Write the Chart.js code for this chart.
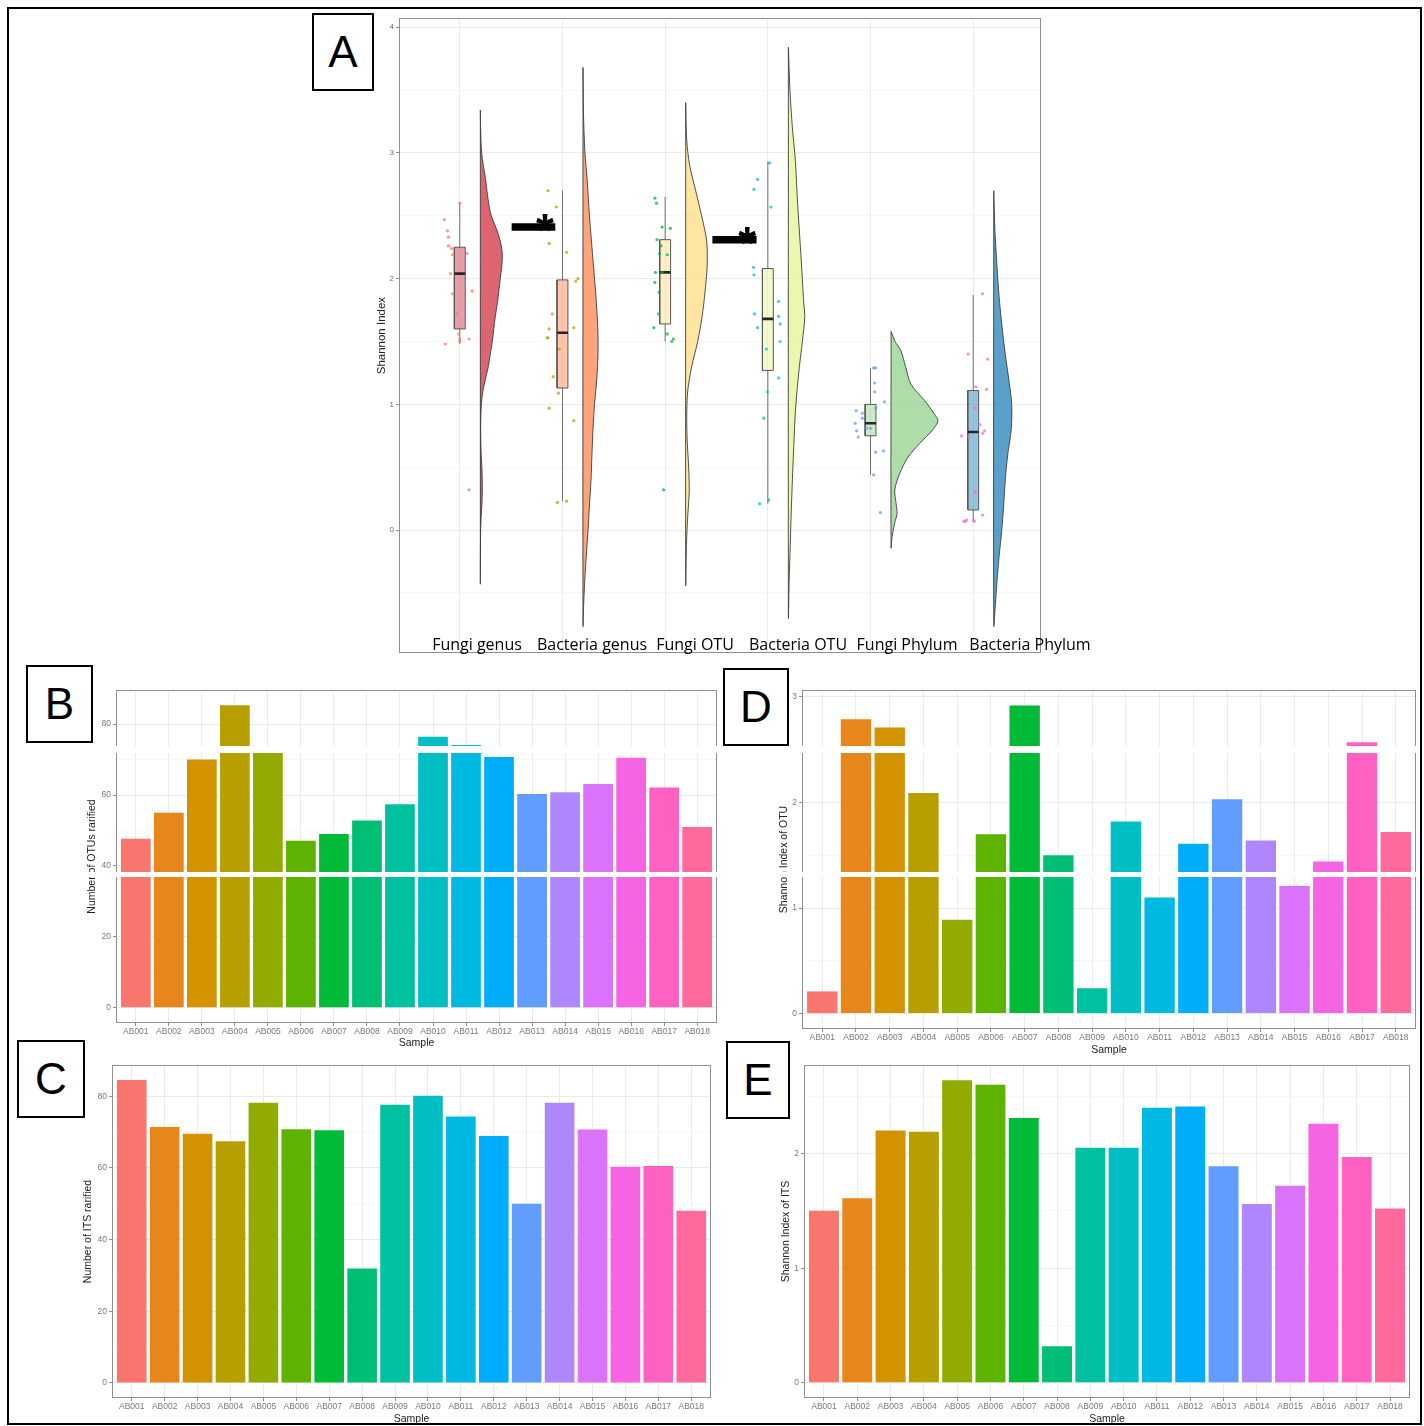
<!DOCTYPE html>
<html>
<head>
<meta charset="utf-8">
<script src="https://cdn.jsdelivr.net/npm/chart.js@4.4.1/dist/chart.umd.min.js"></script>
<style>
  html, body { margin: 0; padding: 0; background: #fff; }
  #page { position: relative; width: 1424px; height: 1426px; overflow: hidden; background: #fff; }
  #page canvas { position: absolute; }
  .outer { position: absolute; left: 7px; top: 7px; width: 1411px; height: 1414px; border: 2px solid #000; }
  .tag { position: absolute; box-sizing: border-box; border: 2.5px solid #000; background: #fff;
         font-family: 'Liberation Sans', Arial, sans-serif; font-size: 44px; color: #000;
         display: flex; align-items: center; justify-content: center; }
  .grp { position: absolute; top: 636px; transform: translateX(-50%); white-space: nowrap;
         font-family: 'Open Sans', sans-serif; font-size: 16px; line-height: 16px; color: #000; }
</style>
</head>
<body>
<div id="page">
  <div class="outer"></div>
  <canvas id="chartA" width="686" height="650" style="left:359px;top:10px"></canvas>
  <canvas id="chartB" width="642" height="371" style="left:76px;top:680px"></canvas>
  <canvas id="chartC" width="640" height="372" style="left:72px;top:1055px"></canvas>
  <canvas id="chartD" width="655" height="378" style="left:762px;top:680px"></canvas>
  <canvas id="chartE" width="647" height="372" style="left:764px;top:1055px"></canvas>

  <div class="grp" style="left:477px">Fungi genus</div>
  <div class="grp" style="left:592px">Bacteria genus</div>
  <div class="grp" style="left:695px">Fungi OTU</div>
  <div class="grp" style="left:798px">Bacteria OTU</div>
  <div class="grp" style="left:907px">Fungi Phylum</div>
  <div class="grp" style="left:1030px">Bacteria Phylum</div>

  <div class="tag" style="left:312px;top:13px;width:62px;height:78px">A</div>
  <div class="tag" style="left:26px;top:665px;width:67px;height:78px">B</div>
  <div class="tag" style="left:17px;top:1040px;width:68px;height:78px">C</div>
  <div class="tag" style="left:723px;top:668px;width:66px;height:78px">D</div>
  <div class="tag" style="left:726px;top:1041px;width:64px;height:78px">E</div>
</div>

<script>
// ---- samples (panels B-E) ----
const samples = ['AB001', 'AB002', 'AB003', 'AB004', 'AB005', 'AB006', 'AB007', 'AB008', 'AB009',
                 'AB010', 'AB011', 'AB012', 'AB013', 'AB014', 'AB015', 'AB016', 'AB017', 'AB018'];
const sampleColors = ['#F8766D', '#E7861B', '#D39200', '#B79F00', '#93AA00', '#5EB300', '#00BA38', '#00BF74', '#00C19F',
                      '#00BFC4', '#00B9E3', '#00ADFA', '#619CFF', '#AE87FF', '#DB72FB', '#F564E3', '#FF61C3', '#FF699C'];

const otuRarified = [47.7, 55.0, 70.0, 85.3, 72.5, 47.1, 49.0, 52.8, 57.4, 76.4, 74.1, 70.7, 60.3, 60.8, 63.1, 70.5, 62.1, 51.0];
const itsRarified = [84.5, 71.4, 69.5, 67.4, 78.2, 70.8, 70.5, 31.9, 77.6, 80.1, 74.3, 68.9, 50.0, 78.2, 70.7, 60.3, 60.5, 48.0];
const otuShannon = [0.21, 2.79, 2.71, 2.09, 0.89, 1.70, 2.92, 1.50, 0.24, 1.82, 1.10, 1.61, 2.03, 1.64, 1.21, 1.44, 2.57, 1.72];
const itsShannon = [1.50, 1.61, 2.20, 2.19, 2.64, 2.60, 2.31, 0.32, 2.05, 2.05, 2.40, 2.41, 1.89, 1.56, 1.72, 2.26, 1.97, 1.52];

const countTicks = [0, 10, 20, 30, 40, 50, 60, 70, 80];
const countTickLabels = ['0', '', '20', '', '40', '', '60', '', '80'];
const otuShannonTicks = [0, 0.5, 1, 1.5, 2, 2.5, 3];
const otuShannonTickLabels = ['0', '', '1', '', '2', '', '3'];
const itsShannonTicks = [0, 0.5, 1, 1.5, 2, 2.5];
const itsShannonTickLabels = ['0', '', '1', '', '2', ''];

// ---- panel A (raincloud) ----
const groups = ['Fungi genus', 'Bacteria genus', 'Fungi OTU', 'Bacteria OTU', 'Fungi Phylum', 'Bacteria Phylum'];
const groupFill = ['#D53E4F', '#FC8D59', '#FEE08B', '#E6F598', '#99D594', '#3288BD'];
const groupPointColor = ['#F8766D', '#B79F00', '#00BA38', '#00BFC4', '#619CFF', '#F564E3'];

const fungiGenusValues = [2.60, 2.47, 2.38, 2.33, 2.26, 2.24, 2.19, 2.20, 2.04, 1.88, 1.90, 1.72, 1.56, 1.52, 1.48, 1.52, 0.32, 1.50];
const fungiGenusJitter = [0.00, -0.15, -0.12, -0.11, -0.11, -0.08, -0.07, 0.07, -0.09, -0.07, 0.12, -0.03, -0.01, 0.00, -0.14, 0.09, 0.09, 0.00];
const bacteriaGenusValues = [2.70, 2.57, 2.28, 2.21, 2.00, 1.98, 1.72, 1.60, 1.61, 1.53, 1.53, 1.44, 1.22, 1.09, 0.97, 0.87, 0.22, 0.23];
const bacteriaGenusJitter = [-0.14, -0.06, -0.13, 0.04, 0.15, 0.13, -0.10, -0.13, 0.11, -0.15, -0.14, -0.03, -0.09, -0.04, -0.13, 0.11, -0.05, 0.04];
// OTU groups use the per-sample Shannon values of panels D and E
const fungiOtuJitter = [0.065, -0.11, -0.055, 0.02, -0.10, -0.085, -0.08, -0.015, -0.095, -0.03, 0.05, -0.03, -0.06, 0.02, -0.065, -0.04, -0.10, 0.08];
const bacteriaOtuJitter = [-0.08, -0.10, -0.135, -0.14, -0.04, 0.105, 0.015, 0.12, 0.01, 0.105, -0.005, -0.10, -0.135, 0.12, 0.105, -0.015, 0.03, -0.13];
const fungiPhylumValues = [1.29, 1.29, 1.17, 1.10, 1.02, 0.95, 0.93, 0.97, 0.85, 0.79, 0.81, 0.74, 0.62, 0.63, 0.44, 0.14, 0.89, 0.81];
const fungiPhylumJitter = [0.03, 0.05, 0.04, 0.04, 0.135, -0.14, -0.08, 0.05, -0.15, -0.135, -0.04, -0.12, 0.05, 0.125, 0.03, 0.095, -0.08, 0.00];
const bacteriaPhylumValues = [1.88, 1.40, 1.36, 1.14, 1.12, 0.97, 0.84, 0.79, 0.77, 0.75, 0.74, 0.30, 0.12, 0.07, 0.08, 0.08, 0.07, 0.07];
const bacteriaPhylumJitter = [0.09, -0.05, 0.14, 0.025, 0.13, 0.02, 0.065, 0.11, 0.09, -0.115, -0.04, 0.02, 0.09, -0.08, -0.065, 0.00, 0.01, -0.09];

const whiskerLow = [1.48, 0.23, 1.50, 0.21, 0.44, 0.08];
const boxQ1 = [1.60, 1.13, 1.64, 1.27, 0.75, 0.16];
const boxMedian = [2.04, 1.57, 2.05, 1.68, 0.85, 0.78];
const boxQ3 = [2.25, 1.99, 2.31, 2.08, 1.00, 1.11];
const whiskerHigh = [2.60, 2.70, 2.65, 2.93, 1.29, 1.87];

// half-violin outlines: [shannon, half width in category units], top to bottom
const fungiGenusDensity = [[3.34, 0], [3.2, 0.003], [3.0, 0.013], [2.8, 0.049], [2.6, 0.081], [2.5, 0.107], [2.4, 0.155],
  [2.3, 0.194], [2.2, 0.214], [2.1, 0.209], [2.0, 0.194], [1.9, 0.180], [1.8, 0.165], [1.7, 0.146], [1.6, 0.131],
  [1.5, 0.117], [1.4, 0.097], [1.3, 0.078], [1.2, 0.049], [1.1, 0.024], [1.0, 0.010], [0.9, 0.005], [0.8, 0.003],
  [0.6, 0.008], [0.5, 0.015], [0.4, 0.019], [0.3, 0.019], [0.2, 0.015], [0.1, 0.008], [0.0, 0.003], [-0.2, 0.001], [-0.42, 0]];
const bacteriaGenusDensity = [[3.68, 0], [3.3, 0.005], [3.0, 0.019], [2.8, 0.039], [2.5, 0.063], [2.2, 0.092], [2.0, 0.112],
  [1.8, 0.131], [1.6, 0.144], [1.4, 0.146], [1.2, 0.134], [1.0, 0.112], [0.8, 0.097], [0.6, 0.087], [0.4, 0.078],
  [0.2, 0.063], [0.0, 0.049], [-0.2, 0.032], [-0.4, 0.017], [-0.6, 0.006], [-0.76, 0]];
const fungiOtuDensity = [[3.40, 0], [3.1, 0.010], [2.9, 0.039], [2.7, 0.097], [2.5, 0.155], [2.3, 0.204], [2.1, 0.209],
  [1.9, 0.189], [1.7, 0.160], [1.5, 0.117], [1.3, 0.058], [1.1, 0.019], [0.9, 0.010], [0.7, 0.015], [0.5, 0.029],
  [0.3, 0.034], [0.1, 0.019], [-0.1, 0.008], [-0.43, 0]];
const bacteriaOtuDensity = [[3.84, 0], [3.5, 0.015], [3.2, 0.039], [2.94, 0.068], [2.7, 0.083], [2.5, 0.097], [2.2, 0.121],
  [2.0, 0.136], [1.8, 0.150], [1.7, 0.160], [1.5, 0.136], [1.3, 0.107], [1.1, 0.083], [0.9, 0.065], [0.6, 0.049],
  [0.4, 0.039], [0.1, 0.026], [-0.15, 0.017], [-0.42, 0.007], [-0.69, 0]];
const fungiPhylumDensity = [[1.58, 0], [1.50, 0.039], [1.43, 0.094], [1.30, 0.141], [1.16, 0.194], [1.03, 0.327],
  [0.92, 0.424], [0.87, 0.456], [0.80, 0.408], [0.69, 0.279], [0.58, 0.165], [0.45, 0.084], [0.32, 0.036],
  [0.21, 0.049], [0.13, 0.058], [0.06, 0.036], [-0.05, 0.010], [-0.14, 0]];
const bacteriaPhylumDensity = [[2.70, 0], [2.4, 0.010], [2.2, 0.024], [2.0, 0.039], [1.8, 0.058], [1.6, 0.083], [1.4, 0.112],
  [1.2, 0.146], [1.0, 0.175], [0.8, 0.170], [0.6, 0.136], [0.4, 0.112], [0.2, 0.097], [0.0, 0.078], [-0.2, 0.053],
  [-0.4, 0.032], [-0.6, 0.015], [-0.76, 0]];

// significance marks between groups
const sigFrom = [1.505, 3.46];
const sigTo = [1.93, 3.89];
const sigLevel = [2.41, 2.31];
const sigStarAt = [1.83, 3.80];

const shannonTicks = [-0.5, 0, 0.5, 1, 1.5, 2, 2.5, 3, 3.5, 4];
const shannonTickLabels = ['', '0', '', '1', '', '2', '', '3', '', '4'];

// rows of the reference that were blanked out when the panels were pasted together
const stripRows = [[746, 753], [872, 877]];

Chart.defaults.font.family = "'Liberation Sans', Arial, sans-serif";

function rgba(hex, a) {
    const n = parseInt(hex.slice(1), 16);
    return `rgba(${n >> 16},${(n >> 8) & 255},${n & 255},${a})`;
}

const framePlugin = {
    id: 'frame',
    afterDatasetsDraw(chart) {
        const { ctx, chartArea: a } = chart;
        ctx.save();
        ctx.strokeStyle = '#8f8f8f';
        ctx.lineWidth = 1;
        ctx.strokeRect(Math.round(a.left) + 0.5, Math.round(a.top) + 0.5,
                       Math.round(a.right - a.left) - 1, Math.round(a.bottom - a.top) - 1);
        ctx.restore();
    }
};

function stripPlugin(canvasTop) {
    return {
        id: 'strips',
        afterDraw(chart) {
            const ctx = chart.ctx;
            ctx.save();
            ctx.fillStyle = '#fff';
            stripRows.forEach(([a, b]) => ctx.fillRect(0, a - canvasTop, chart.width, b - a));
            ctx.restore();
        }
    };
}

function valueAxis(ticks, labels, min, max, title, titlePad) {
    const major = (c) => labels[c.index] !== '';
    return {
        min: min, max: max,
        afterBuildTicks: (s) => { s.ticks = ticks.map(v => ({ value: v })); },
        afterFit: (s) => { s.width = 40; },
        border: { display: false },
        grid: {
            color: (c) => major(c) ? '#ebebeb' : '#f3f3f3',
            lineWidth: (c) => major(c) ? 1 : 0.7,
            tickLength: 3,
            tickColor: (c) => major(c) ? '#8f8f8f' : 'rgba(0,0,0,0)'
        },
        ticks: { callback: (v, i) => labels[i], font: { size: 8.5 }, color: '#7a7a7a', padding: 2 },
        title: { display: true, text: title, font: { size: 10.5 }, color: '#222', padding: { top: titlePad, bottom: 0 } }
    };
}

function barChart(id, canvasTop, values, ticks, labels, min, max, title, titlePad, xHeight, strips) {
    const plugins = [framePlugin];
    if (strips) plugins.push(stripPlugin(canvasTop));
    return new Chart(document.getElementById(id), {
        type: 'bar',
        data: {
            datasets: [{
                data: values.map((v, i) => ({ x: i + 1, y: v })),
                backgroundColor: sampleColors,
                borderWidth: 0,
                barPercentage: 0.9,
                categoryPercentage: 1
            }]
        },
        options: {
            responsive: false,
            animation: false,
            events: [],
            layout: { padding: { top: 10, right: 1, left: 0, bottom: 0 } },
            plugins: { legend: { display: false }, tooltip: { enabled: false } },
            scales: {
                x: {
                    type: 'linear', min: 0.4, max: 18.6, offset: false,
                    afterBuildTicks: (s) => { s.ticks = samples.map((_, i) => ({ value: i + 1 })); },
                    afterFit: (s) => { s.height = xHeight; },
                    border: { display: false },
                    grid: { offset: false, color: '#ebebeb', tickLength: 3, tickColor: '#8f8f8f' },
                    ticks: { autoSkip: false, maxRotation: 0, callback: (v, i) => samples[i],
                             font: { size: 8.5 }, color: '#7a7a7a', padding: 1 },
                    title: { display: true, text: 'Sample', font: { size: 10.5 }, color: '#222', padding: { top: 0, bottom: 1.7 } }
                },
                y: valueAxis(ticks, labels, min, max, title, titlePad)
            }
        },
        plugins: plugins
    });
}

barChart('chartB', 680, otuRarified, countTicks, countTickLabels, -4.27, 89.6, 'Number of OTUs rarified', 9.7, 28, true);
barChart('chartC', 1055, itsRarified, countTicks, countTickLabels, -4.22, 88.7, 'Number of ITS rarified', 9.7, 29, false);
barChart('chartD', 680, otuShannon, otuShannonTicks, otuShannonTickLabels, -0.146, 3.066, 'Shannon Index of OTU', 15.7, 29, true);
barChart('chartE', 1055, itsShannon, itsShannonTicks, itsShannonTickLabels, -0.132, 2.772, 'Shannon Index of ITS', 15.7, 29, false);

// ---- panel A ----
const densities = [fungiGenusDensity, bacteriaGenusDensity, fungiOtuDensity, bacteriaOtuDensity, fungiPhylumDensity, bacteriaPhylumDensity];
const pointValues = [fungiGenusValues, bacteriaGenusValues, itsShannon, otuShannon, fungiPhylumValues, bacteriaPhylumValues];
const pointJitter = [fungiGenusJitter, bacteriaGenusJitter, fungiOtuJitter, bacteriaOtuJitter, fungiPhylumJitter, bacteriaPhylumJitter];
const VIOLIN_NUDGE = 0.2;
const BOX_HALF = 0.053;

const aSets = [];
groups.forEach((g, k) => {
    const c = k + 1;
    aSets.push({
        label: g + ' points',
        data: pointValues[k].map((v, i) => ({ x: c + pointJitter[k][i], y: v })),
        showLine: false, pointRadius: 1.6, pointBorderWidth: 0,
        pointBackgroundColor: rgba(groupPointColor[k], 0.75), order: 0
    });
    aSets.push({
        data: [{ x: c - BOX_HALF, y: boxMedian[k] }, { x: c + BOX_HALF, y: boxMedian[k] }],
        borderColor: '#262626', borderWidth: 2.6, pointRadius: 0, order: 1
    });
    aSets.push({
        data: [{ x: c - BOX_HALF, y: boxQ1[k] }, { x: c + BOX_HALF, y: boxQ1[k] }, { x: c + BOX_HALF, y: boxQ3[k] },
               { x: c - BOX_HALF, y: boxQ3[k] }, { x: c - BOX_HALF, y: boxQ1[k] }],
        fill: 'shape', backgroundColor: rgba(groupFill[k], 0.5), borderColor: '#595959', borderWidth: 1,
        pointRadius: 0, order: 2
    });
    aSets.push({
        data: [{ x: c, y: whiskerLow[k] }, { x: c, y: boxQ1[k] }],
        borderColor: '#6e6e6e', borderWidth: 1, pointRadius: 0, order: 3
    });
    aSets.push({
        data: [{ x: c, y: boxQ3[k] }, { x: c, y: whiskerHigh[k] }],
        borderColor: '#6e6e6e', borderWidth: 1, pointRadius: 0, order: 3
    });
    const d = densities[k];
    const outline = d.map(([v, w]) => ({ x: c + VIOLIN_NUDGE + w, y: v }));
    outline.push({ x: c + VIOLIN_NUDGE, y: d[0][0] });
    aSets.push({
        data: outline, fill: 'shape', backgroundColor: rgba(groupFill[k], 0.8),
        borderColor: '#3d3d3d', borderWidth: 0.9, tension: 0.3, pointRadius: 0, order: 4
    });
});
sigFrom.forEach((x0, j) => {
    aSets.push({
        data: [{ x: x0, y: sigLevel[j] }, { x: sigTo[j], y: sigLevel[j] }],
        borderColor: '#000', borderWidth: 7.5, borderCapStyle: 'butt', pointRadius: 0, order: 0
    });
});

const starPlugin = {
    id: 'stars',
    afterDatasetsDraw(chart) {
        const { ctx, scales: { x, y } } = chart;
        ctx.save();
        ctx.fillStyle = '#000';
        ctx.font = "bold 46px 'Liberation Sans', Arial, sans-serif";
        ctx.textAlign = 'center';
        ctx.textBaseline = 'alphabetic';
        sigStarAt.forEach((sx, j) => {
            ctx.fillText('*', x.getPixelForValue(sx), y.getPixelForValue(sigLevel[j]) + 19);
        });
        ctx.restore();
    }
};

const shannonMajor = (c) => shannonTickLabels[c.index] !== '';
new Chart(document.getElementById('chartA'), {
    type: 'line',
    data: { datasets: aSets },
    options: {
        responsive: false,
        animation: false,
        events: [],
        layout: { padding: { top: 8, right: 2, left: 0, bottom: 0 } },
        plugins: { legend: { display: false }, tooltip: { enabled: false } },
        scales: {
            x: {
                type: 'linear', min: 0.408, max: 6.66, offset: false,
                afterBuildTicks: (s) => { s.ticks = groups.map((_, i) => ({ value: i + 1 })); },
                afterFit: (s) => { s.height = 2; },
                border: { display: false },
                grid: { color: '#ebebeb', drawTicks: false },
                ticks: { display: false }
            },
            y: {
                min: -0.979, max: 4.073,
                afterBuildTicks: (s) => { s.ticks = shannonTicks.map(v => ({ value: v })); },
                afterFit: (s) => { s.width = 40; },
                border: { display: false },
                grid: {
                    color: (c) => shannonMajor(c) ? '#ebebeb' : '#f3f3f3',
                    lineWidth: (c) => shannonMajor(c) ? 1 : 0.7,
                    tickLength: 3,
                    tickColor: (c) => shannonMajor(c) ? '#8f8f8f' : 'rgba(0,0,0,0)'
                },
                ticks: { callback: (v, i) => shannonTickLabels[i], font: { size: 8 }, color: '#6a6a6a', padding: 2 },
                title: { display: true, text: 'Shannon Index', font: { size: 11.5 }, color: '#222', padding: { top: 16, bottom: 0 } }
            }
        }
    },
    plugins: [framePlugin, starPlugin]
});
</script>
</body>
</html>
